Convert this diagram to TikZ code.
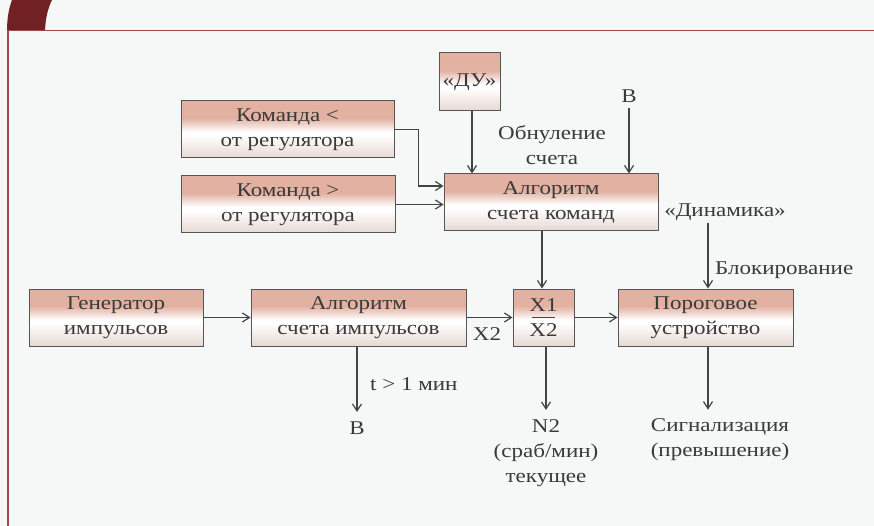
\documentclass[tikz,border=0pt]{standalone}
\usepackage{fontspec}
\setmainfont[FakeStretch=1.18]{Liberation Serif}
\usetikzlibrary{arrows.meta}
\definecolor{bg}{HTML}{F6F8F8}
\definecolor{tabred}{HTML}{712024}
\definecolor{framered}{HTML}{A04A4A}
\definecolor{boxtop}{HTML}{E2B1A1}
\definecolor{boxlow}{HTML}{F7F1EF}
\definecolor{boxbot}{HTML}{E5D8D2}
\definecolor{boxline}{HTML}{555555}
\definecolor{ln}{HTML}{444444}
\definecolor{txt}{HTML}{3A3A3A}
\pgfdeclareverticalshading{boxshade}{100bp}{color(0bp)=(boxbot); color(25bp)=(boxbot); color(38bp)=(boxlow); color(45bp)=(white); color(48bp)=(white); color(60bp)=(boxtop); color(100bp)=(boxtop)}
\begin{document}
\begin{tikzpicture}[x=1pt,y=-1pt,
  box/.style={draw=boxline, line width=1pt, shading=boxshade, align=center, inner sep=0pt,
    font=\fontsize{19.5}{25}\selectfont, text=txt},
  lbl/.style={align=center, inner sep=0pt, font=\fontsize{19.5}{25}\selectfont, text=txt},
  conn/.style={draw=ln, line width=1.2pt, -{Straight Barb[length=7pt,width=9pt,line width=1.2pt]}}]
\useasboundingbox (0,0) rectangle (874,526);
\fill[bg] (0,0) rectangle (874,526);
% frame
\fill[tabred] (12,0) .. controls (9,8) and (7,18) .. (7,31) -- (45,31) .. controls (45.5,18) and (48,8) .. (52,0) -- cycle;
\draw[framered, line width=1.5pt] (8,30.5) -- (874,30.5);
\draw[framered, line width=1.5pt] (8,30) -- (8,526);
% boxes
\node[box, minimum width=213pt, minimum height=57pt] (k1) at (287.5,129.5) {Команда <\\от регулятора};
\node[box, minimum width=214pt, minimum height=57pt] (k2) at (288,204.5) {Команда >\\от регулятора};
\node[box, minimum width=61pt, minimum height=58pt] (du) at (469.5,82) {«ДУ»};
\node[box, minimum width=214pt, minimum height=57pt] (ak) at (551,202.5) {Алгоритм\\счета команд};
\node[box, minimum width=174pt, minimum height=57pt] (gen) at (116,317.5) {Генератор\\импульсов};
\node[box, minimum width=215pt, minimum height=57pt] (ai) at (358.5,317.5) {Алгоритм\\счета импульсов};
\node[box, minimum width=61pt, minimum height=57pt] (xx) at (543.5,317.5) {X1\\X2};
\node[box, minimum width=175pt, minimum height=57pt] (por) at (705.5,317.5) {Пороговое\\устройство};
\draw[ln, line width=1.2pt] ([xshift=-11.5pt]xx.center) -- ([xshift=11.5pt]xx.center);
% labels
\node[lbl, anchor=base] (bt) at (629,103) {В};
\node[lbl] (obn) at (552,144.7) {Обнуление\\счета};
\node[lbl, anchor=base] (din) at (725,217) {«Динамика»};
\node[lbl, anchor=base west] (blk) at (715,275) {Блокирование};
\node[lbl, anchor=base west] (tmin) at (370,390) {t > 1 мин};
\node[lbl, anchor=base] (bb) at (357,434) {В};
\node[lbl, anchor=base] (x2) at (487,340) {X2};
\node[lbl] (n2) at (546,452.7) {N2\\(сраб/мин)\\текущее};
\node[lbl] (sig) at (720,439.9) {Сигнализация\\(превышение)};
% connectors
\draw[conn] (k1.east) -- ++(24,0) |- ([yshift=16.5pt]ak.west);
\draw[conn] (k2.east) -- (k2.east -| ak.west);
\draw[conn] ([xshift=2.5pt]du.south) -- ([xshift=2.5pt]du.south |- ak.north);
\draw[conn, shorten <=5pt] (bt.south) -- (bt.south |- ak.north);
\draw[conn] ([xshift=-1.5pt]xx.north |- ak.south) -- ([xshift=-1.5pt]xx.north);
\draw[conn, shorten <=2pt] ([xshift=2.5pt]por.north |- din.south) -- ([xshift=2.5pt]por.north);
\draw[conn] (gen.east) -- (ai.west);
\draw[conn] (ai.east) -- (xx.west);
\draw[conn] (xx.east) -- (por.west);
\draw[conn, shorten >=9pt] ([xshift=-1.5pt]ai.south) -- ([xshift=-1.5pt]ai.south |- bb.north);
\draw[conn, shorten >=9pt] ([xshift=2.5pt]xx.south) -- ([xshift=2.5pt]xx.south |- n2.north);
\draw[conn, shorten >=9pt] ([xshift=2.5pt]por.south) -- ([xshift=2.5pt]por.south |- sig.north);
\end{tikzpicture}
\end{document}
